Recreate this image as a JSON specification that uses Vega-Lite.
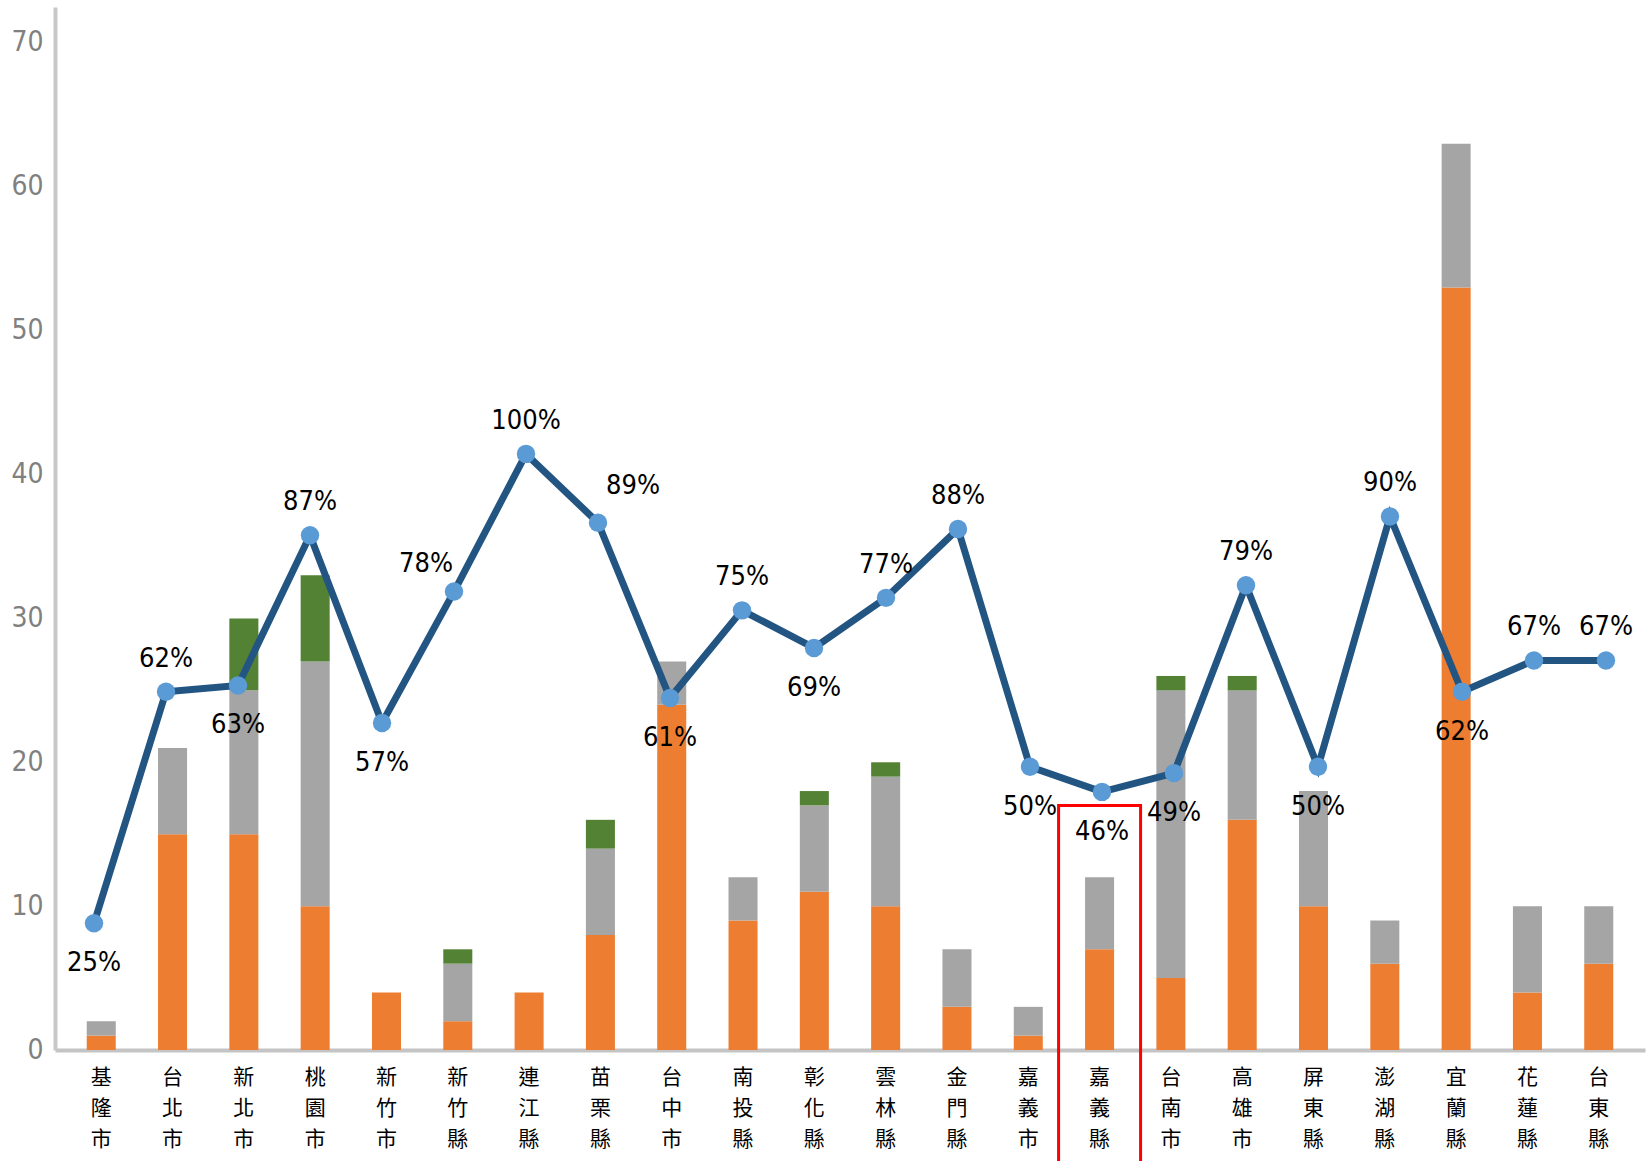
{
  "$schema": "https://vega.github.io/schema/vega-lite/v6.json",
  "width": 1590,
  "height": 1043,
  "autosize": {"type": "none"},
  "padding": {"left": 55, "top": 7, "right": 2, "bottom": 111},
  "background": "white",
  "config": {
    "view": {"stroke": null},
    "axis": {"grid": false, "ticks": false}
  },
  "datasets": {
    "main": [
      {"county": "基隆市", "A": 1, "B": 1, "C": 0, "rate": 0.25},
      {"county": "台北市", "A": 15, "B": 6, "C": 0, "rate": 0.62},
      {"county": "新北市", "A": 15, "B": 10, "C": 5, "rate": 0.63},
      {"county": "桃園市", "A": 10, "B": 17, "C": 6, "rate": 0.87},
      {"county": "新竹市", "A": 4, "B": 0, "C": 0, "rate": 0.57},
      {"county": "新竹縣", "A": 2, "B": 4, "C": 1, "rate": 0.78},
      {"county": "連江縣", "A": 4, "B": 0, "C": 0, "rate": 1.0},
      {"county": "苗栗縣", "A": 8, "B": 6, "C": 2, "rate": 0.89},
      {"county": "台中市", "A": 24, "B": 3, "C": 0, "rate": 0.61},
      {"county": "南投縣", "A": 9, "B": 3, "C": 0, "rate": 0.75},
      {"county": "彰化縣", "A": 11, "B": 6, "C": 1, "rate": 0.69},
      {"county": "雲林縣", "A": 10, "B": 9, "C": 1, "rate": 0.77},
      {"county": "金門縣", "A": 3, "B": 4, "C": 0, "rate": 0.88},
      {"county": "嘉義市", "A": 1, "B": 2, "C": 0, "rate": 0.5},
      {"county": "嘉義縣", "A": 7, "B": 5, "C": 0, "rate": 0.46},
      {"county": "台南市", "A": 5, "B": 20, "C": 1, "rate": 0.49},
      {"county": "高雄市", "A": 16, "B": 9, "C": 1, "rate": 0.79},
      {"county": "屏東縣", "A": 10, "B": 8, "C": 0, "rate": 0.5},
      {"county": "澎湖縣", "A": 6, "B": 3, "C": 0, "rate": 0.9},
      {"county": "宜蘭縣", "A": 53, "B": 10, "C": 0, "rate": 0.62},
      {"county": "花蓮縣", "A": 4, "B": 6, "C": 0, "rate": 0.67},
      {"county": "台東縣", "A": 6, "B": 4, "C": 0, "rate": 0.67}
    ],
    "box": [
      {"county": "嘉義縣", "top": 17, "bottom": -10}
    ]
  },
  "layer": [
    {
      "data": {"name": "main"},
      "layer": [
        {
          "transform": [{"fold": ["A", "B", "C"], "as": ["series", "value"]}],
          "mark": {"type": "bar"},
          "encoding": {
            "x": {
              "field": "county", "type": "nominal", "sort": null,
              "scale": {"paddingInner": 0.593, "paddingOuter": 0.445},
              "axis": {
                "title": null,
                "labelAngle": 0,
                "labelExpr": "split(datum.label, '')",
                "labelFont": "Noto Sans CJK TC",
                "labelFontSize": 21,
                "labelLineHeight": 31,
                "labelColor": "#000000",
                "labelBaseline": "top",
                "labelPadding": 16,
                "domainColor": "#c4c4c4",
                "domainWidth": 4
              }
            },
            "y": {
              "field": "value", "type": "quantitative", "stack": "zero",
              "scale": {"domain": [0, 72.5], "nice": false},
              "axis": {
                "title": null,
                "values": [0, 10, 20, 30, 40, 50, 60, 70],
                "labelFont": "DejaVu Sans Condensed",
                "labelFontSize": 28,
                "labelColor": "#808080",
                "labelPadding": 12,
                "domainColor": "#c8c8c8",
                "domainWidth": 4
              }
            },
            "color": {
              "field": "series", "type": "nominal",
              "scale": {"domain": ["A", "B", "C"], "range": ["#ED7D31", "#A5A5A5", "#548235"]},
              "legend": null
            },
            "order": {"field": "series", "sort": "ascending"}
          }
        },
        {
          "data": {"name": "box"},
          "mark": {"type": "bar", "fillOpacity": 0, "stroke": "#ff0000", "strokeWidth": 3, "width": 82},
          "encoding": {
            "x": {"field": "county", "type": "nominal", "sort": null},
            "y": {"field": "top", "type": "quantitative"},
            "y2": {"field": "bottom"}
          }
        }
      ]
    },
    {
      "data": {"name": "main"},
      "encoding": {
        "x": {
          "field": "county", "type": "nominal", "sort": null,
          "scale": {"type": "point", "padding": 0.542},
          "axis": null
        },
        "y": {
          "field": "rate", "type": "quantitative",
          "scale": {"domain": [0.0476, 1.714], "nice": false, "zero": false},
          "axis": null
        }
      },
      "layer": [
        {"mark": {"type": "line", "color": "#235583", "strokeWidth": 7}},
        {"mark": {"type": "point", "filled": true, "color": "#5B9BD5", "opacity": 1, "size": 340}},
        {
          "transform": [{"filter": {"field": "county", "oneOf": ["台北市", "桃園市", "連江縣", "南投縣", "雲林縣", "金門縣", "高雄市", "澎湖縣", "花蓮縣", "台東縣"]}}],
          "mark": {"type": "text", "dy": -33, "baseline": "middle", "font": "DejaVu Sans Condensed", "fontSize": 27, "color": "#000000"},
          "encoding": {"text": {"field": "rate", "format": ".0%"}}
        },
        {
          "transform": [{"filter": {"field": "county", "oneOf": ["新竹縣"]}}],
          "mark": {"type": "text", "dy": -28, "dx": -28, "baseline": "middle", "font": "DejaVu Sans Condensed", "fontSize": 27, "color": "#000000"},
          "encoding": {"text": {"field": "rate", "format": ".0%"}}
        },
        {
          "transform": [{"filter": {"field": "county", "oneOf": ["苗栗縣"]}}],
          "mark": {"type": "text", "dy": -37, "dx": 35, "baseline": "middle", "font": "DejaVu Sans Condensed", "fontSize": 27, "color": "#000000"},
          "encoding": {"text": {"field": "rate", "format": ".0%"}}
        },
        {
          "transform": [{"filter": {"field": "county", "oneOf": ["基隆市", "新北市", "新竹市", "台中市", "彰化縣", "嘉義市", "嘉義縣", "台南市", "屏東縣", "宜蘭縣"]}}],
          "mark": {"type": "text", "dy": 40, "baseline": "middle", "font": "DejaVu Sans Condensed", "fontSize": 27, "color": "#000000"},
          "encoding": {"text": {"field": "rate", "format": ".0%"}}
        }
      ]
    }
  ],
  "resolve": {"scale": {"x": "independent", "y": "independent"}, "axis": {"x": "independent", "y": "independent"}}
}
